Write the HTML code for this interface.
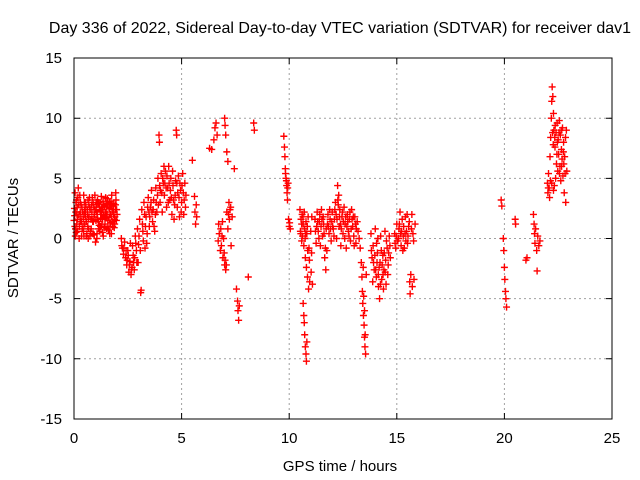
<!DOCTYPE html>
<html><head><meta charset="utf-8"><style>
html,body{margin:0;padding:0;background:#fff;}
svg{display:block;font-family:"Liberation Sans",sans-serif;}
</style></head><body>
<svg id="chart" width="640" height="480" viewBox="0 0 640 480">
<rect x="0" y="0" width="640" height="480" fill="#fff"/>
<text x="340" y="33" font-size="16" text-anchor="middle" fill="#000">Day 336 of 2022, Sidereal Day-to-day VTEC variation (SDTVAR) for receiver dav1</text>
<g id="grid"></g>
<g id="ticks"></g>
<g id="marks"></g>
<rect x="74" y="58" width="538" height="361" fill="none" stroke="#000" stroke-width="1"/>
<text x="340" y="471" font-size="15" text-anchor="middle">GPS time / hours</text>
<text x="18" y="238" font-size="15" text-anchor="middle" transform="rotate(-90 18 238)">SDTVAR / TECUs</text>
</svg>
<script>
const xTicks = [0, 5, 10, 15, 20, 25];
const yTicks = [-15, -10, -5, 0, 5, 10, 15];
const clusterA = [[0,1.5],[0.05,3.8],[0.1,0.5],[0.15,2.6],[0.2,4.2],[0.25,1.0],[0.3,3.0],[0.35,0.2],[0.4,2.2],[0.45,3.6],[0.5,1.2],[0.55,2.8],[0.6,0.4],[0.65,3.2],[0.7,1.8],[0.75,2.4],[0.8,0.8],[0.85,3.4],[0.9,1.4],[0.95,2.0],[1.0,-0.3],[1.05,2.8],[1.1,1.6],[1.15,3.0],[1.2,0.6],[1.25,2.4],[1.3,1.2],[1.35,3.1],[1.4,0.9],[1.45,2.2],[1.5,1.7],[1.55,3.3],[1.6,0.7],[1.65,2.5],[1.7,1.3],[1.75,3.6],[1.8,1.0],[1.85,2.9],[1.9,1.8],[1.95,3.2],[2.0,2.0],
[0.02,2.5],[0.07,0.8],[0.12,3.2],[0.17,1.6],[0.22,2.8],[0.27,3.6],[0.32,1.8],[0.37,2.6],[0.42,1.0],[0.47,2.0],[0.52,3.0],[0.57,0.2],[0.62,2.4],[0.67,1.6],[0.72,3.4],[0.77,0.6],[0.82,2.8],[0.87,1.4],[0.92,2.6],[0.97,3.6],[1.02,1.5],[1.07,0.4],[1.12,2.9],[1.17,1.1],[1.22,2.3],[1.27,3.5],[1.32,0.5],[1.37,1.9],[1.42,2.7],[1.47,3.4],[1.52,0.8],[1.57,1.5],[1.62,2.6],[1.67,1.0],[1.72,3.1],[1.77,2.2],[1.82,2.7],[1.87,0.9],[1.92,2.4],[1.97,1.5],
[0.04,1.0],[0.14,2.0],[0.24,0.0],[0.34,1.4],[0.44,0.6],[0.54,1.8],[0.64,1.0],[0.74,0.2],[0.84,1.6],[0.94,0.3],[1.04,2.2],[1.14,0.8],[1.24,1.7],[1.34,2.4],[1.44,1.2],[1.54,2.0],[1.64,3.0],[1.74,0.4],[1.84,2.0],[1.94,3.8],[0.09,3.0],[0.29,2.2],[0.49,2.4],[0.69,2.8],[0.89,3.0],[1.09,3.2],[1.29,2.6],[1.49,2.9],[1.69,2.0],[1.89,1.2]];
const clusterA2 = [[0.03,1.9],[0.08,2.2],[0.13,1.2],[0.18,3.4],[0.23,2.0],[0.28,1.4],[0.33,2.8],[0.38,0.8],[0.43,1.6],[0.48,3.0],[0.53,2.2],[0.58,1.4],[0.63,2.0],[0.68,0.8],[0.73,2.6],[0.78,1.6],[0.83,2.2],[0.88,0.4],[0.93,1.8],[0.98,2.4],[1.03,3.0],[1.08,2.0],[1.13,1.4],[1.18,2.6],[1.23,1.0],[1.28,2.0],[1.33,1.6],[1.38,2.8],[1.43,1.8],[1.48,2.2],[1.53,2.6],[1.58,1.0],[1.63,1.8],[1.68,2.8],[1.73,1.8],[1.78,1.4],[1.83,2.4],[1.88,1.6],[1.93,2.8],[1.98,2.4],[0.06,0.2],[0.16,0.6],[0.46,0.2],[0.66,0.0],[1.06,0.0],[1.36,0.2],[1.66,0.4]];
const clusterB = [[2.2,0],[2.25,-0.8],[2.3,-1.3],[2.35,-0.3],[2.4,-1.6],[2.45,-2.2],[2.5,-1.0],[2.55,-2.8],[2.6,-1.9],[2.65,-3.0],[2.7,-2.4],[2.72,-0.6],[2.75,-1.4],[2.8,-2.6],[2.85,0.2],[2.9,-1.0],[2.95,0.8],[3.0,-0.5],[3.05,1.6],[3.1,-4.5],[3.12,-4.3],[3.15,2.4],[3.2,0.6],[3.25,3.0],[3.3,-0.8],[3.35,1.8],[3.4,0.4],[3.45,3.4],[3.5,1.0],[3.55,2.6],[3.6,4.0],[3.65,1.4],[3.7,3.2],[3.75,0.6],[3.8,4.2],[3.85,2.2],[3.9,5.0],[3.95,8.6],[3.97,8.0],[4.0,3.0],[4.05,5.4],[4.1,2.2],[4.15,4.6],[4.2,3.6],[4.25,5.6],[4.3,2.6],[4.35,4.2],[4.4,6.0],[4.45,3.2],[4.5,5.0],[4.55,2.0],[4.6,4.4],[4.65,1.6],[4.7,3.6],[4.75,9.0],[4.77,8.6],[4.8,2.6],[4.85,5.2],[4.9,1.8],[4.95,4.0],[5.0,3.0],[5.05,5.4],[5.1,2.0],[5.15,4.6],[5.2,3.6],
[2.98,-2.0],[3.02,0.2],[3.18,1.2],[3.28,2.0],[3.38,-0.4],[3.48,2.2],[3.58,3.0],[3.68,2.4],[3.78,2.0],[3.88,3.6],[3.98,4.4],[4.08,3.8],[4.18,6.0],[4.28,4.2],[4.38,3.0],[4.48,4.0],[4.58,5.6],[4.68,2.8],[4.78,4.6],[4.88,3.4],[4.98,2.2],[5.08,3.8],[2.62,-0.4],[2.52,-1.4],
[2.22,-0.6],[2.32,-0.8],[2.42,-1.0],[2.47,-1.8],[2.57,-2.2],[2.67,-2.6],[2.77,-2.0],[2.82,-1.6],[2.87,-0.4],[2.92,-2.0],[3.08,-1.0],[3.22,-0.2],[3.32,1.0],[3.42,2.6],[3.52,1.8],[3.62,2.2],[3.72,1.0],[3.82,3.0],[3.92,2.8],[4.02,4.0],[4.12,5.0],[4.22,4.6],[4.32,5.2],[4.42,4.6],[4.52,3.4],[4.62,3.2],[4.72,4.8],[4.82,3.8],[4.92,4.6],[5.02,4.4],[5.12,3.2],[5.18,2.6]];
const clusterC = [[5.5,6.5],[5.6,3.5],[5.62,2.2],[5.65,1.2],[5.68,2.8],[5.7,1.8],[6.3,7.5],[6.4,7.4],[6.5,8.2],[6.55,9.2],[6.6,9.6],[6.65,8.6],[6.7,-0.2],[6.72,1.2],[6.75,0.4],[6.8,-1.0],[6.82,0.8],[6.85,-0.6],[6.9,1.4],[6.92,-1.6],[6.95,0.0],[7.0,-2.2],[7.0,10.0],[7.02,9.4],[7.05,-2.6],[7.05,8.6],[7.1,2.2],[7.1,7.2],[7.15,0.8],[7.15,6.4],[7.2,3.0],[7.22,1.6],[7.25,2.4],[7.3,-0.6],[7.35,1.8],[7.45,5.8],[7.55,-4.2],[7.6,-5.2],[7.62,-6.0],[7.65,-6.8],[7.68,-5.6],[8.1,-3.2],[8.35,9.6],[8.38,9.0],
[6.98,-1.2],[7.02,-1.8],[7.08,-2.2],[6.88,0.2],[7.18,2.0],[7.28,2.6]];
const clusterD = [[9.75,8.5],[9.78,7.6],[9.8,6.8],[9.82,5.8],[9.85,5.0],[9.88,4.4],[9.9,3.8],[9.92,3.2],[9.95,4.6],[9.97,1.6],[10.0,1.0],[10.02,1.3],[10.05,0.8],[9.83,5.4],[9.87,4.8],[9.93,4.2]];
const clusterE = [[10.5,2.4],[10.52,0.6],[10.55,1.6],[10.58,-0.2],[10.6,2.0],[10.62,0.2],[10.65,1.2],[10.68,-0.6],[10.7,2.2],[10.72,0.8],[10.75,-1.6],[10.78,1.4],[10.8,-2.4],[10.82,0.4],[10.85,-3.2],[10.88,1.8],[10.9,-4.2],[10.92,-0.8],[10.95,-3.6],[11.0,0.6],[11.02,-2.8],[11.05,1.8],[11.08,-3.8],[10.65,-5.4],[10.68,-6.4],[10.7,-7.0],[10.72,-8.0],[10.75,-9.0],[10.78,-9.6],[10.8,-10.2],[10.82,-8.6],[11.2,1.6],[11.25,-0.4],[11.3,2.2],[11.35,0.6],[11.4,1.4],[11.45,-0.6],[11.5,2.4],[11.55,0.2],[11.6,1.2],[11.65,-1.6],[11.7,-2.6],[11.72,0.8],[11.75,-1.0],[11.8,2.0],[11.85,0.4],[11.9,1.6],[11.95,-0.2],[12.0,2.2],[12.05,0.8],[12.1,1.6],[12.15,3.0],[12.2,0.0],[12.25,4.4],[12.3,3.6],[12.32,1.0],[12.35,2.4],[12.4,-0.6],[12.45,1.8],[12.5,0.4],[12.55,2.6],[12.6,1.2],[12.65,-0.8],[12.7,2.0],[12.75,0.6],[12.8,1.6],[12.85,-0.2],[12.9,2.4],[12.95,1.0],[13.0,0.2],[13.05,1.8],[13.1,-0.4],[13.2,0.6],[13.3,-0.8],[13.35,-2.0],[13.38,-3.2],[13.4,-4.4],[13.42,-5.4],[13.45,-6.4],[13.48,-7.2],[13.5,-8.2],[13.52,-9.0],[13.55,-9.6],[13.58,-3.0],
[11.28,1.0],[11.42,2.0],[11.58,1.8],[11.88,2.4],[12.08,0.2],[12.18,2.0],[12.28,2.8],[12.48,2.2],[12.68,1.0],[12.88,0.8],[13.08,1.2],[10.58,1.2],[10.74,0.0],[10.86,-1.0],
[10.54,0.4],[10.64,1.8],[10.76,0.4],[10.84,1.0],[10.94,-1.8],[11.04,-1.2],[11.22,0.6],[11.32,1.4],[11.38,0.0],[11.48,1.0],[11.52,1.6],[11.62,0.4],[11.68,-0.8],[11.78,1.2],[11.82,1.0],[11.92,0.8],[11.98,1.4],[12.02,1.0],[12.12,2.4],[12.22,1.6],[12.26,3.2],[12.34,1.8],[12.38,1.2],[12.42,0.8],[12.52,1.4],[12.58,0.0],[12.62,1.8],[12.72,1.4],[12.78,0.2],[12.82,2.2],[12.92,1.6],[12.98,1.8],[13.02,-0.6],[13.12,0.8],[13.16,1.4],[13.25,0.0],[13.44,-2.4],[13.46,-4.8],[13.5,-6.0],[13.53,-8.0]];
const clusterF = [[13.8,0.4],[13.85,-1.6],[13.9,-0.6],[13.95,-2.6],[14.0,0.8],[14.05,-3.2],[14.1,-1.2],[14.15,-4.0],[14.2,-5.0],[14.22,-2.0],[14.25,0.2],[14.3,-3.4],[14.35,-1.4],[14.4,-2.6],[14.45,0.6],[14.5,-3.8],[14.55,-0.8],[14.6,-2.2],[14.65,0.2],[14.7,-1.6],[14.9,0.4],[14.95,-0.8],[15.0,1.2],[15.05,-0.2],[15.1,0.8],[15.15,2.2],[15.2,-0.6],[15.25,1.6],[15.3,0.2],[15.35,-0.8],[15.4,1.8],[15.45,0.6],[15.5,-0.4],[15.55,1.0],[15.6,-3.6],[15.62,-4.6],[15.65,-3.0],[15.7,2.0],[15.72,-4.0],[15.75,0.4],[15.8,-3.4],[15.85,1.2],[13.88,-3.6],[14.08,-2.0],[14.28,-1.0],[14.48,-1.8],[14.12,0.0],[14.38,-4.2],[15.28,-1.0],[15.48,2.0],
[13.82,-1.0],[13.92,-2.0],[13.98,-1.4],[14.02,-2.6],[14.06,-0.4],[14.14,-3.0],[14.18,-2.4],[14.24,-3.8],[14.32,-2.2],[14.36,-3.0],[14.42,-1.2],[14.46,-2.8],[14.52,-0.2],[14.58,-3.0],[14.62,-1.2],[14.68,-0.6],[14.92,-0.4],[14.98,0.2],[15.02,-0.2],[15.08,0.0],[15.12,1.2],[15.18,0.4],[15.22,0.6],[15.32,1.0],[15.38,0.4],[15.42,-0.2],[15.52,0.2],[15.58,1.4],[15.68,0.8],[15.78,-0.2]];
const clusterG = [[19.85,3.2],[19.88,2.7],[19.95,0.0],[19.97,-1.0],[20.0,-2.4],[20.02,-3.4],[20.05,-4.4],[20.07,-5.0],[20.1,-5.7],[20.5,1.6],[20.52,1.2],[21.0,-1.8],[21.05,-1.6],[21.35,2.0],[21.38,1.2],[21.4,0.4],[21.42,-0.4],[21.45,0.8],[21.5,-1.0],[21.52,-2.7],[21.55,0.2],[21.6,-0.6],[21.65,-0.2],
[22.0,4.6],[22.02,3.8],[22.05,5.4],[22.08,4.2],[22.1,3.4],[22.12,6.8],[22.15,8.4],[22.18,10.0],[22.2,11.4],[22.22,12.6],[22.25,11.8],[22.28,10.4],[22.3,9.0],[22.32,4.4],[22.35,7.6],[22.38,5.0],[22.4,8.8],[22.42,6.2],[22.45,9.6],[22.48,5.6],[22.5,8.2],[22.52,7.0],[22.55,9.8],[22.58,6.0],[22.6,8.6],[22.62,4.8],[22.65,7.4],[22.68,6.6],[22.7,9.2],[22.72,5.2],[22.75,8.0],[22.78,3.8],[22.8,6.8],[22.85,3.0],[22.88,9.0],[22.9,5.6],
[22.04,4.2],[22.14,4.8],[22.24,8.8],[22.27,7.8],[22.34,8.4],[22.36,9.4],[22.44,7.0],[22.46,8.0],[22.54,8.8],[22.56,5.4],[22.64,9.0],[22.66,6.0],[22.74,7.2],[22.76,6.2],[22.82,5.4],[22.84,8.4],[22.28,4.0],[22.2,4.6]];
const series = [clusterA, clusterA2, clusterB, clusterC, clusterD, clusterE, clusterF, clusterG];

const NS = 'http://www.w3.org/2000/svg';
const X = t => 74 + t * 21.52;
const Y = v => 238.5 - v * 12.03;
const grid = document.getElementById('grid');
const ticks = document.getElementById('ticks');
const marks = document.getElementById('marks');

xTicks.forEach(t => {
  const x = X(t);
  if (t > 0 && t < 25) {
    const g = document.createElementNS(NS, 'line');
    g.setAttribute('x1', x); g.setAttribute('x2', x); g.setAttribute('y1', 58); g.setAttribute('y2', 419);
    g.setAttribute('stroke', '#a0a0a0'); g.setAttribute('stroke-dasharray', '2,3');
    
    
    grid.appendChild(g);
  }
  const tk = document.createElementNS(NS, 'path');
  tk.setAttribute('d', `M${x},419v-6M${x},58v6`);
  tk.setAttribute('stroke', '#000');
  
  
  ticks.appendChild(tk);
  const lb = document.createElementNS(NS, 'text');
  lb.setAttribute('x', x); lb.setAttribute('y', 443);
  lb.setAttribute('font-size', '15'); lb.setAttribute('text-anchor', 'middle');
  lb.textContent = t;
  
  
  ticks.appendChild(lb);
});
yTicks.forEach(v => {
  const y = Y(v);
  if (v > -15 && v < 15) {
    const g = document.createElementNS(NS, 'line');
    g.setAttribute('x1', 74); g.setAttribute('x2', 612); g.setAttribute('y1', y); g.setAttribute('y2', y);
    g.setAttribute('stroke', '#a0a0a0'); g.setAttribute('stroke-dasharray', '2,3');
    
    
    grid.appendChild(g);
  }
  const tk = document.createElementNS(NS, 'path');
  tk.setAttribute('d', `M74,${y}h6M612,${y}h-6`);
  tk.setAttribute('stroke', '#000');
  
  
  ticks.appendChild(tk);
  const lb = document.createElementNS(NS, 'text');
  lb.setAttribute('x', 62); lb.setAttribute('y', y + 5);
  lb.setAttribute('font-size', '15'); lb.setAttribute('text-anchor', 'end');
  lb.textContent = v;
  
  
  ticks.appendChild(lb);
});
let d = '';
series.forEach(pts => pts.forEach(([t, v]) => {
  const x = X(t), y = Y(v);
  d += `M${x-3.5},${y}h7M${x},${y-3.5}v7`;
}));
const p = document.createElementNS(NS, 'path');
p.setAttribute('d', d);
p.setAttribute('stroke', '#ff0000');
p.setAttribute('stroke-width', '1.4');
p.setAttribute('fill', 'none');


marks.appendChild(p);
</script>
</body></html>
